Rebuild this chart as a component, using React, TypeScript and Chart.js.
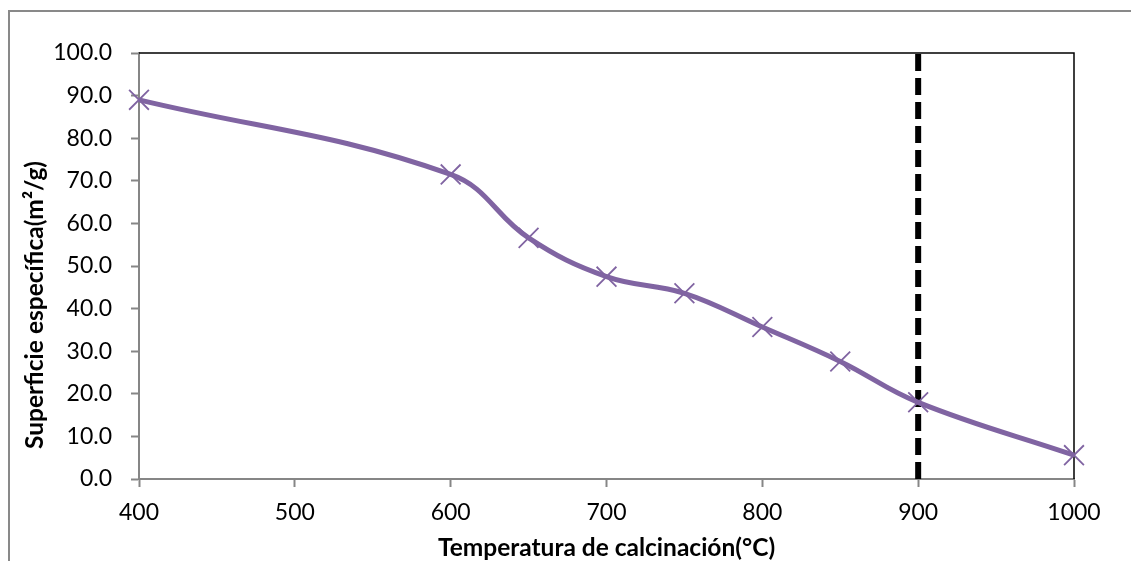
import React, { useEffect, useRef } from "react";
import { Chart, registerables } from "chart.js";

Chart.register(...registerables);

// Calcination temperature (°C) and specific surface area (m²/g)
const temperatures = [400, 600, 650, 700, 750, 800, 850, 900, 1000];
const surfaceArea = [89.0, 71.5, 56.6, 47.5, 43.6, 35.7, 27.6, 18.0, 5.6];

// Reference temperature marked with the dashed vertical line
const markerTemperature = 900;
const markerRange = [0, 100];

const xTitle = "Temperatura de calcinación(°C)";
const yTitle = "Superficie específica(m²/g)";

const FONT = "Lato, 'Open Sans', sans-serif";
const AXIS_GRAY = "#868686";
const PURPLE = "#8064A2";

const framePlugin = {
  id: "frame",
  beforeDraw(chart: any) {
    const ctx = chart.ctx;
    ctx.save();
    ctx.fillStyle = "#ffffff";
    ctx.fillRect(0, 0, chart.width, chart.height);
    // outer chart border (runs past the right and bottom edges)
    ctx.strokeStyle = "#898989";
    ctx.lineWidth = 2;
    ctx.strokeRect(9, 11, chart.width + 40, chart.height + 40);
    ctx.restore();
  },
  beforeDatasetsDraw(chart: any) {
    const { ctx, chartArea: a } = chart;
    ctx.save();
    ctx.strokeStyle = "#000000";
    ctx.lineWidth = 1.5;
    ctx.beginPath();
    ctx.moveTo(a.left, a.top);
    ctx.lineTo(a.right, a.top);
    ctx.lineTo(a.right, a.bottom);
    ctx.stroke();
    ctx.restore();
  },
  afterDraw(chart: any) {
    const ctx = chart.ctx;
    ctx.save();
    ctx.translate(35, 305);
    ctx.rotate(-Math.PI / 2);
    ctx.font = `bold 24.5px ${FONT}`;
    ctx.fillStyle = "#000000";
    ctx.textAlign = "center";
    ctx.textBaseline = "middle";
    ctx.fillText(yTitle, 0, 0);
    ctx.restore();
  },
};

export default function App() {
  const canvasRef = useRef<HTMLCanvasElement | null>(null);

  useEffect(() => {
    if (!canvasRef.current) return;
    const chart = new Chart(canvasRef.current, {
      type: "line",
      data: {
        datasets: [
          {
            data: temperatures.map((t, i) => ({ x: t, y: surfaceArea[i] })),
            borderColor: PURPLE,
            borderWidth: 5,
            tension: 0.4,
            pointStyle: "crossRot",
            pointRadius: 14,
            pointBorderWidth: 1.8,
            pointBorderColor: PURPLE,
            pointBackgroundColor: PURPLE,
            clip: false as any,
            order: 0,
          },
          {
            data: markerRange.map((y) => ({ x: markerTemperature, y })),
            borderColor: "#000000",
            borderWidth: 6,
            borderDash: [17, 7],
            pointRadius: 0,
            tension: 0,
            order: 1,
          },
        ],
      },
      options: {
        responsive: false,
        animation: false,
        layout: { padding: { left: 0, right: 57, top: 53, bottom: 0 } },
        plugins: {
          legend: { display: false },
          tooltip: { enabled: false },
        },
        scales: {
          x: {
            type: "linear",
            min: 400,
            max: 1000,
            afterFit: (s: any) => {
              s.height = 82;
            },
            ticks: {
              stepSize: 100,
              color: "#000000",
              padding: 12,
              font: { family: FONT, size: 23 },
              callback: (v: any) => String(v),
            },
            grid: {
              drawOnChartArea: false,
              drawTicks: true,
              tickLength: 8,
              tickColor: AXIS_GRAY,
              tickWidth: 2,
            },
            border: { color: AXIS_GRAY, width: 2 },
            title: {
              display: true,
              text: xTitle,
              color: "#000000",
              font: { family: FONT, size: 24.5, weight: "bold" },
              padding: { top: 0, bottom: -2 },
            },
          },
          y: {
            min: 0,
            max: 100,
            afterFit: (s: any) => {
              s.width = 139;
            },
            ticks: {
              stepSize: 10,
              color: "#000000",
              padding: 19,
              font: { family: FONT, size: 23 },
              callback: (v: any) => Number(v).toFixed(1),
            },
            grid: {
              drawOnChartArea: false,
              drawTicks: true,
              tickLength: 8,
              tickColor: AXIS_GRAY,
              tickWidth: 2,
            },
            border: { color: AXIS_GRAY, width: 2 },
          },
        },
      },
      plugins: [framePlugin],
    });
    return () => chart.destroy();
  }, []);

  return (
    <div style={{ position: "absolute", left: 0, top: 0, width: 1131, height: 561 }}>
      <canvas ref={canvasRef} width={1131} height={561} />
    </div>
  );
}
